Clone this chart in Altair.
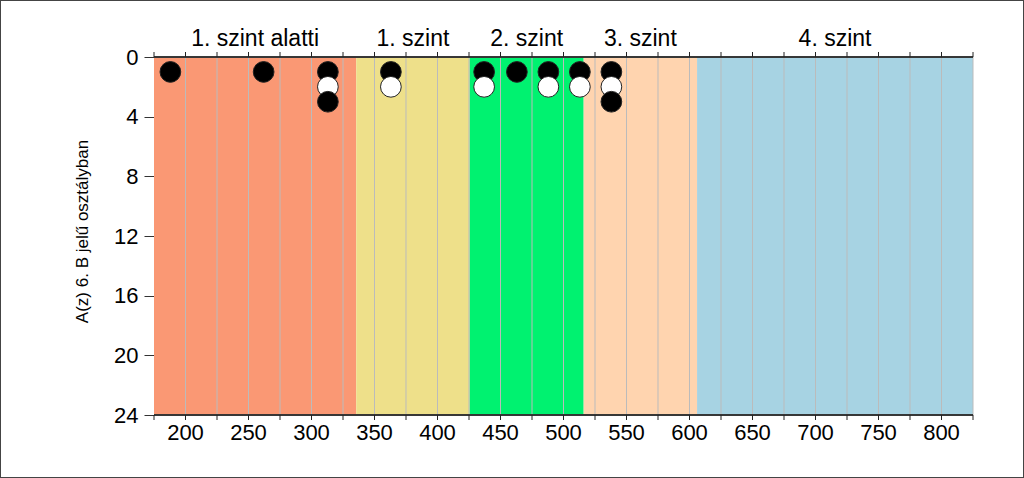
import altair as alt
import pandas as pd

# Band (level) definitions
band_labels = ["1. szint alatti", "1. szint", "2. szint", "3. szint", "4. szint"]
band_start = [175, 335.5, 425.5, 516, 606]
band_end = [335.5, 425.5, 516, 606, 825]
band_colors = ["#FA9874", "#EEE08A", "#00F270", "#FFD4AF", "#A7D3E3"]

# Student points: score (x), stacked count (y), fill type
pt_x = [188, 262, 313, 313, 313, 363, 363, 437, 437, 463, 488, 488, 513, 513, 538, 538, 538]
pt_y = [1, 1, 1, 2, 3, 1, 2, 1, 2, 1, 1, 2, 1, 2, 1, 2, 3]
pt_fill = ["black", "black", "black", "white", "black", "black", "white", "black", "white",
           "black", "black", "white", "black", "white", "black", "white", "black"]

x_labels = list(range(200, 801, 50))
x_ticks = list(range(175, 826, 25))
grid_vals = list(range(200, 826, 25))
y_ticks = [0, 4, 8, 12, 16, 20, 24]

W, H = 819, 358
PL, PT, PR, PB = 154, 57, 51, 63
FONT = "Liberation Sans"

bands = pd.DataFrame({"label": band_labels, "start": band_start, "end": band_end,
                      "color": band_colors,
                      "mid": [(a + b) / 2 for a, b in zip(band_start, band_end)]})
points = pd.DataFrame({"x": pt_x, "y": pt_y, "fill": pt_fill, "order": list(range(len(pt_x)))})
grid = pd.DataFrame({"v": grid_vals})
ticks = pd.DataFrame({"v": x_ticks})
labs = pd.DataFrame({"v": x_labels, "t": [str(v) for v in x_labels]})

xscale = alt.Scale(domain=[175, 825], nice=False, zero=False)
yscale = alt.Scale(domain=[0, 24], reverse=True, nice=False)

band_rect = alt.Chart(bands).mark_rect(clip=True).encode(
    x=alt.X("start:Q", scale=xscale, axis=None),
    x2="end:Q",
    y=alt.value(0), y2=alt.value(H),
    fill=alt.Fill("color:N", scale=None, legend=None),
)

grid_rules = alt.Chart(grid).mark_rule(color="#BBBBBB", strokeWidth=1).encode(
    x=alt.X("v:Q", scale=xscale, axis=None), y=alt.value(0), y2=alt.value(H)
)

frame_lines = alt.Chart(bands).mark_rule(color="#333333", strokeWidth=1).encode(
    x=alt.value(0), x2=alt.value(W), y=alt.value(0)
)
bottom_line = alt.Chart(bands).mark_rule(color="#333333", strokeWidth=1).encode(
    x=alt.value(0), x2=alt.value(W), y=alt.value(H)
)

top_ticks = alt.Chart(ticks).mark_rule(color="#222222", strokeWidth=1).encode(
    x=alt.X("v:Q", scale=xscale, axis=None), y=alt.value(-5), y2=alt.value(0)
)
bottom_ticks = alt.Chart(ticks).mark_rule(color="#222222", strokeWidth=1).encode(
    x=alt.X("v:Q", scale=xscale, axis=None), y=alt.value(H), y2=alt.value(H + 5)
)

x_text = alt.Chart(labs).mark_text(fontSize=22, font=FONT, color="black",
                                    baseline="alphabetic", align="center").encode(
    x=alt.X("v:Q", scale=xscale, axis=None), y=alt.value(H + 25), text="t:N"
)

band_text = alt.Chart(bands).mark_text(fontSize=23, font=FONT, color="black",
                                        baseline="alphabetic", align="center").encode(
    x=alt.X("mid:Q", scale=xscale, axis=None), y=alt.value(-11), text="label:N"
)

pts = alt.Chart(points).mark_point(filled=True, shape="circle", size=430, opacity=1,
                                    stroke="#222222", strokeWidth=1).encode(
    x=alt.X("x:Q", scale=xscale, axis=None),
    y=alt.Y("y:Q", scale=yscale,
            axis=alt.Axis(values=y_ticks, grid=False, tickSize=10, labelFontSize=22,
                          labelColor="black", domainColor="#333333", tickColor="#333333",
                          labelPadding=6, title="A(z) 6. B jelű osztályban",
                          titleFontSize=17, titleFontWeight="normal", titleColor="black",
                          titleFont=FONT, labelFont=FONT, titlePadding=22,
                          titleY=174)),
    fill=alt.Fill("fill:N", scale=None, legend=None),
    order="order:Q",
)

border = alt.Chart(bands).mark_rect(fill=None, stroke="#444444", strokeWidth=1, clip=False).encode(
    x=alt.value(-PL + 0.5), x2=alt.value(W + PR - 0.5),
    y=alt.value(-PT + 0.5), y2=alt.value(H + PB - 0.5)
)

chart = alt.layer(band_rect, grid_rules, frame_lines, bottom_line, top_ticks, bottom_ticks,
                  x_text, band_text, pts, border).properties(
    width=W, height=H,
    autosize=alt.AutoSizeParams(type="none"),
    padding={"left": PL, "top": PT, "right": PR, "bottom": PB},
    background="white",
).configure_view(stroke=None)

chart.save("out.html", embed_options={"renderer": "svg", "actions": False})
